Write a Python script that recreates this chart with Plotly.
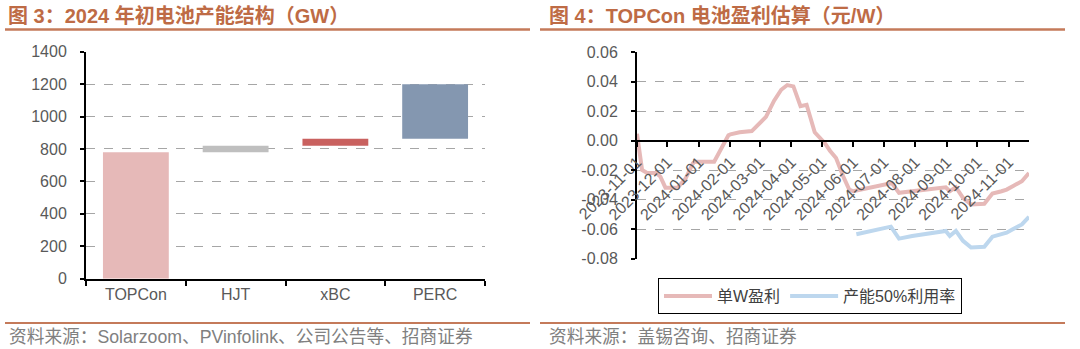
import numpy as np
import plotly.graph_objects as go

# ---------------- data ----------------
# Figure 3: capacity structure at beginning of 2024 (GW), waterfall
cap_categories = ["TOPCon", "HJT", "xBC", "PERC"]
cap_values = [780, 40, 43, 337]
cap_colors = ["#E6B9B8", "#BFBFBF", "#C9615F", "#8497B0"]
cap_yticks = [0, 200, 400, 600, 800, 1000, 1200, 1400]

# Figure 4: TOPCon cell profit estimate (yuan/W)
profit_dates = [
    "2023-11-01", "2023-11-06", "2023-11-11", "2023-11-20", "2023-11-24", "2023-11-29",
    "2023-12-11", "2023-12-19", "2023-12-26", "2023-12-28", "2024-01-16", "2024-01-23",
    "2024-01-30", "2024-02-01", "2024-02-10", "2024-02-22", "2024-03-07", "2024-03-15",
    "2024-03-22", "2024-03-28", "2024-04-03", "2024-04-10", "2024-04-16", "2024-04-24",
    "2024-05-04", "2024-05-09", "2024-05-15", "2024-05-22", "2024-05-28", "2024-06-01",
    "2024-06-17", "2024-07-03", "2024-07-09", "2024-07-16", "2024-07-29", "2024-08-15",
    "2024-08-31", "2024-09-04", "2024-09-10", "2024-09-17", "2024-09-25", "2024-10-08",
    "2024-10-16", "2024-10-25", "2024-10-30", "2024-11-05", "2024-11-14", "2024-11-21",
]
profit_per_w = [
    0.0045, -0.0200, -0.0220, -0.0220, -0.0245, -0.0320,
    -0.0320, -0.0256, -0.0155, -0.0144, -0.0144, -0.0054,
    0.0036, 0.0042, 0.0056, 0.0064, 0.0160, 0.0270,
    0.0344, 0.0376, 0.0367, 0.0233, 0.0242, 0.0056,
    -0.0018, -0.0069, -0.0119, -0.0243, -0.0333, -0.0344,
    -0.0321, -0.0299, -0.0288, -0.0355, -0.0344, -0.0328,
    -0.0317, -0.0344, -0.0317, -0.0389, -0.0434, -0.0429,
    -0.0360, -0.0344, -0.0333, -0.0310, -0.0276, -0.0220,
]
util50_dates = [
    "2024-06-04", "2024-07-08", "2024-07-16", "2024-07-29", "2024-08-31", "2024-09-04",
    "2024-09-10", "2024-09-17", "2024-09-25", "2024-10-08", "2024-10-16", "2024-10-25",
    "2024-10-30", "2024-11-05", "2024-11-14", "2024-11-21",
]
util50_profit = [
    -0.0636, -0.0584, -0.0665, -0.0647, -0.0613, -0.0647,
    -0.0613, -0.0680, -0.0726, -0.0721, -0.0652, -0.0636,
    -0.0625, -0.0602, -0.0569, -0.0517,
]
month_ticks = [
    "2023-11-01", "2023-12-01", "2024-01-01", "2024-02-01", "2024-03-01", "2024-04-01",
    "2024-05-01", "2024-06-01", "2024-07-01", "2024-08-01", "2024-09-01", "2024-10-01",
    "2024-11-01",
]
profit_yticks = [0.06, 0.04, 0.02, 0.00, -0.02, -0.04, -0.06, -0.08]
profit_ytick_text = ["0.06", "0.04", "0.02", "0.00", "-0.02", "-0.04", "-0.06", "-0.08"]

# ---------------- figure ----------------
W, H = 1080, 349
FONT = "Liberation Sans, Arial, Noto Sans CJK SC, sans-serif"
TITLE_COLOR = "#BE6B45"
AXIS_TXT = "#595959"
GRID = "#A6A6A6"

def px_x(x):
    return x / W

def px_y(y):
    return (H - y) / H

fig = go.Figure()

bases = np.concatenate([[0], np.cumsum(cap_values)[:-1]])
fig.add_trace(go.Bar(
    x=cap_categories, y=cap_values, base=bases,
    marker=dict(color=cap_colors, line=dict(width=0)),
    width=0.66, showlegend=False, xaxis="x", yaxis="y",
))

fig.add_trace(go.Scatter(
    x=profit_dates, y=profit_per_w, mode="lines", name="单W盈利",
    line=dict(color="#E6B9B8", width=4), xaxis="x2", yaxis="y2",
))
fig.add_trace(go.Scatter(
    x=util50_dates, y=util50_profit, mode="lines", name="产能50%利用率",
    line=dict(color="#BDD7EE", width=4), xaxis="x2", yaxis="y2",
))

y2_dom = [px_y(258.5), px_y(52)]
zero_pos = y2_dom[0] + (y2_dom[1] - y2_dom[0]) * (0.08 / 0.14)

fig.update_layout(
    width=W, height=H,
    margin=dict(l=0, r=0, t=0, b=0, autoexpand=False),
    paper_bgcolor="white", plot_bgcolor="white",
    font=dict(family=FONT, size=16, color=AXIS_TXT),
    xaxis=dict(
        domain=[px_x(86), px_x(485)], anchor="y", type="category", automargin=False,
        range=[-0.5, 3.5], showline=True, linecolor="black", linewidth=2,
        ticks="outside", tickson="boundaries", ticklen=5, tickcolor="black", tickwidth=2,
        showgrid=False, tickfont=dict(size=16, color=AXIS_TXT),
    ),
    yaxis=dict(
        domain=[px_y(278.7), px_y(51.7)], anchor="x", range=[0, 1400], automargin=False,
        tickvals=cap_yticks, showline=True, linecolor="black", linewidth=2,
        ticks="outside", ticklen=4, tickcolor="black", tickwidth=1.5,
        showgrid=True, gridcolor=GRID, griddash="dash", gridwidth=1,
        zeroline=False, tickfont=dict(size=16, color=AXIS_TXT),
        ticklabelstandoff=10,
    ),
    xaxis2=dict(
        domain=[px_x(637), px_x(1029)], anchor="free", position=zero_pos, automargin=False,
        type="date", range=["2023-11-01", "2024-11-21"],
        tickvals=month_ticks, ticktext=month_ticks, tickangle=-45,
        showline=True, linecolor="black", linewidth=2,
        ticks="outside", ticklen=5, tickcolor="black", tickwidth=2,
        showgrid=False, tickfont=dict(size=16, color=AXIS_TXT),
    ),
    yaxis2=dict(
        domain=y2_dom, anchor="x2", range=[-0.08, 0.06], automargin=False,
        tickvals=profit_yticks, ticktext=profit_ytick_text,
        showline=True, linecolor="black", linewidth=2,
        ticks="outside", ticklen=4, tickcolor="black", tickwidth=1.5,
        showgrid=True, gridcolor=GRID, griddash="dash", gridwidth=1,
        zeroline=False, tickfont=dict(size=16, color=AXIS_TXT),
        ticklabelstandoff=10,
    ),
    legend=dict(
        orientation="h", x=px_x(810), y=px_y(296), xanchor="center", yanchor="middle",
        bordercolor="black", borderwidth=1, bgcolor="white",
        font=dict(family=FONT, size=16, color="#404040"),
        tracegroupgap=0, itemwidth=48,
    ),
    shapes=[
        dict(type="line", xref="paper", yref="paper", x0=px_x(5), x1=px_x(530),
             y0=px_y(29.5), y1=px_y(29.5), line=dict(color="#C47A5A", width=2.5)),
        dict(type="line", xref="paper", yref="paper", x0=px_x(540), x1=px_x(1065),
             y0=px_y(29.5), y1=px_y(29.5), line=dict(color="#C47A5A", width=2.5)),
        dict(type="line", xref="paper", yref="paper", x0=px_x(5), x1=px_x(530),
             y0=px_y(323), y1=px_y(323), line=dict(color="#C47A5A", width=2)),
        dict(type="line", xref="paper", yref="paper", x0=px_x(540), x1=px_x(1065),
             y0=px_y(323), y1=px_y(323), line=dict(color="#C47A5A", width=2)),
    ],
    annotations=[
        dict(text="<b>图 3：2024 年初电池产能结构（GW）</b>", xref="paper", yref="paper",
             x=px_x(6), y=px_y(16), xanchor="left", yanchor="middle", showarrow=False,
             font=dict(family=FONT, size=20, color=TITLE_COLOR)),
        dict(text="<b>图 4：TOPCon 电池盈利估算（元/W）</b>", xref="paper", yref="paper",
             x=px_x(547), y=px_y(16), xanchor="left", yanchor="middle", showarrow=False,
             font=dict(family=FONT, size=20, color=TITLE_COLOR)),
        dict(text="资料来源：Solarzoom、PVinfolink、公司公告等、招商证券", xref="paper", yref="paper",
             x=px_x(7), y=px_y(337), xanchor="left", yanchor="middle", showarrow=False,
             font=dict(family=FONT, size=17.7, color="#808080")),
        dict(text="资料来源：盖锡咨询、招商证券", xref="paper", yref="paper",
             x=px_x(547), y=px_y(337), xanchor="left", yanchor="middle", showarrow=False,
             font=dict(family=FONT, size=17.7, color="#808080")),
    ],
)

fig.write_html("out.html")
